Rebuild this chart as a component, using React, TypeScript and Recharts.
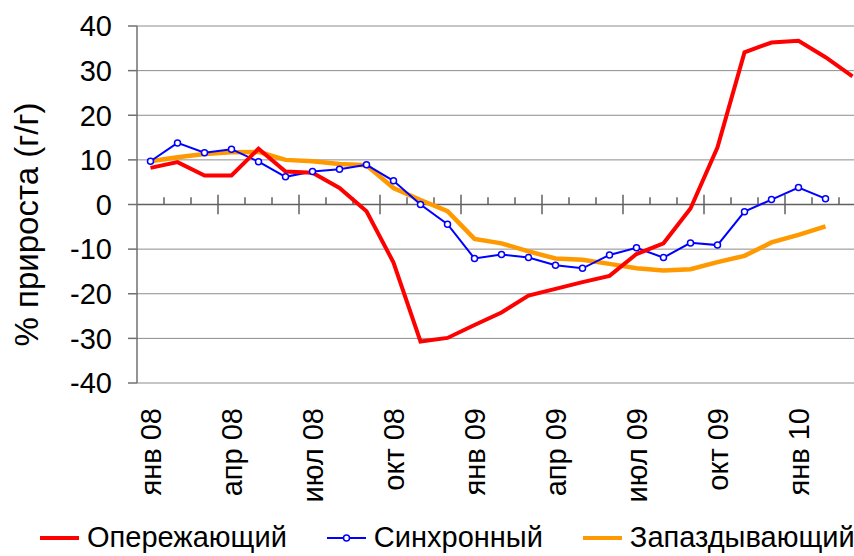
import React from "react";
import {
  LineChart,
  Line,
  XAxis,
  YAxis,
  CartesianGrid,
  ReferenceLine,
} from "recharts";

// Month categories, Jan 2008 .. Mar 2010
const months = [
  "янв 08", "фев 08", "мар 08", "апр 08", "май 08", "июн 08",
  "июл 08", "авг 08", "сен 08", "окт 08", "ноя 08", "дек 08",
  "янв 09", "фев 09", "мар 09", "апр 09", "май 09", "июн 09",
  "июл 09", "авг 09", "сен 09", "окт 09", "ноя 09", "дек 09",
  "янв 10", "фев 10", "мар 10",
];

// % growth y/y
const leading = [
  8.2, 9.5, 6.5, 6.5, 12.5, 7.4, 7.1, 3.7, -1.5, -13.0, -30.7, -29.9,
  -27.0, -24.2, -20.4, -18.9, -17.4, -16.0, -11.1, -8.7, -0.9, 12.8, 34.1, 36.3,
  36.7, 33.0, 28.7,
];
const coincident = [
  9.7, 13.8, 11.6, 12.4, 9.6, 6.2, 7.4, 7.9, 8.9, 5.3, 0.0, -4.4,
  -12.1, -11.2, -11.9, -13.6, -14.3, -11.3, -9.7, -11.9, -8.6, -9.1, -1.6, 1.1,
  3.8, 1.3,
];
const lagging = [
  9.7, 10.6, 11.3, 11.7, 11.8, 10.0, 9.7, 9.1, 8.8, 3.7, 1.0, -1.5,
  -7.7, -8.7, -10.5, -12.1, -12.4, -13.3, -14.3, -14.8, -14.5, -12.9, -11.5, -8.5,
  -6.8, -4.9,
];

const yTicks = [-40, -30, -20, -10, 0, 10, 20, 30, 40];
const labelTicks = [0, 3, 6, 9, 12, 15, 18, 21, 24]; // every quarter

const series = [
  { key: "leading", name: "Опережающий", color: "#FF0000" },
  { key: "coincident", name: "Синхронный", color: "#0000FF" },
  { key: "lagging", name: "Запаздывающий", color: "#FF9900" },
];

const data = months.map((m, i) => ({
  i,
  month: m,
  leading: leading[i] ?? null,
  coincident: coincident[i] ?? null,
  lagging: lagging[i] ?? null,
}));

// small tick marks on the zero line, between months
const gaps = months.slice(0, -1).map((_, i) => i + 0.5);

const FONT = "'Liberation Sans', Arial, sans-serif";

const MonthTick = (props: any) => {
  const { x, y, payload } = props;
  return (
    <text
      x={x}
      y={y}
      dy="0.36em"
      transform={`rotate(-90, ${x}, ${y})`}
      textAnchor="end"
      fontSize={29}
      fontFamily={FONT}
      fill="#000"
    >
      {months[payload.value]}
    </text>
  );
};

const YTitle = (props: any) => {
  const { viewBox } = props;
  const cx = viewBox.x + 26;
  const cy = viewBox.y + viewBox.height / 2 + 20;
  return (
    <text
      x={cx}
      y={cy}
      dy="0.36em"
      transform={`rotate(-90, ${cx}, ${cy})`}
      textAnchor="middle"
      fontSize={33}
      fontFamily={FONT}
      fill="#000"
    >
      % прироста (г/г)
    </text>
  );
};

const App: React.FC = () => {
  return (
    <div
      style={{
        position: "absolute",
        left: 0,
        top: 0,
        width: 854,
        height: 556,
        overflow: "hidden",
        background: "#fff",
        fontFamily: FONT,
      }}
    >
      <LineChart
        width={880}
        height={556}
        data={data}
        margin={{ top: 26, right: 14, bottom: 0, left: 0 }}
      >
        <CartesianGrid vertical={false} stroke="#8c8c8c" />
        <XAxis
          dataKey="i"
          type="number"
          domain={[-0.5, 26.5]}
          ticks={labelTicks}
          axisLine={false}
          tickLine={false}
          tickSize={0}
          tickMargin={25}
          height={173}
          tick={<MonthTick />}
          interval={0}
        />
        <YAxis
          width={137}
          domain={[-40, 40]}
          ticks={yTicks}
          axisLine={{ stroke: "#707070", strokeWidth: 1.5 }}
          tickLine={{ stroke: "#707070", strokeWidth: 1.5 }}
          tickSize={9}
          tickMargin={16}
          tick={{ fontSize: 29, fill: "#000", fontFamily: FONT }}
          label={<YTitle />}
        />
        <ReferenceLine y={0} stroke="#606060" strokeWidth={1.5} />
        {gaps.map((g) =>
          (g + 0.5) % 3 === 0 ? (
            <ReferenceLine
              key={g}
              segment={[{ x: g, y: 2.2 }, { x: g, y: -2.2 }]}
              stroke="#606060"
              strokeWidth={1.5}
            />
          ) : (
            <ReferenceLine
              key={g}
              segment={[{ x: g, y: 0 }, { x: g, y: 1.6 }]}
              stroke="#606060"
              strokeWidth={1.5}
            />
          )
        )}
        <Line
          dataKey="lagging"
          type="linear"
          stroke="#FF9900"
          strokeWidth={4.5}
          dot={false}
          isAnimationActive={false}
        />
        <Line
          dataKey="coincident"
          type="linear"
          stroke="#0000FF"
          strokeWidth={2}
          dot={{ r: 3, stroke: "#0000FF", strokeWidth: 1.5, fill: "#fff" }}
          isAnimationActive={false}
        />
        <Line
          dataKey="leading"
          type="linear"
          stroke="#FF0000"
          strokeWidth={4}
          dot={false}
          isAnimationActive={false}
        />
      </LineChart>
      <div
        style={{
          position: "absolute",
          left: 40,
          top: 522,
          display: "flex",
          alignItems: "center",
          fontSize: 29,
          lineHeight: "31px",
          color: "#000",
        }}
      >
        {series.map((s) => (
          <div
            key={s.key}
            style={{ display: "flex", alignItems: "center", marginRight: 40 }}
          >
            <svg width={39} height={12} style={{ marginRight: 8 }}>
              <line
                x1={0}
                y1={6}
                x2={39}
                y2={6}
                stroke={s.color}
                strokeWidth={s.key === "coincident" ? 2 : 4}
              />
              {s.key === "coincident" && (
                <circle cx={19.5} cy={6} r={3} stroke={s.color} strokeWidth={1.5} fill="#fff" />
              )}
            </svg>
            <span>{s.name}</span>
          </div>
        ))}
      </div>
    </div>
  );
};

export default App;
